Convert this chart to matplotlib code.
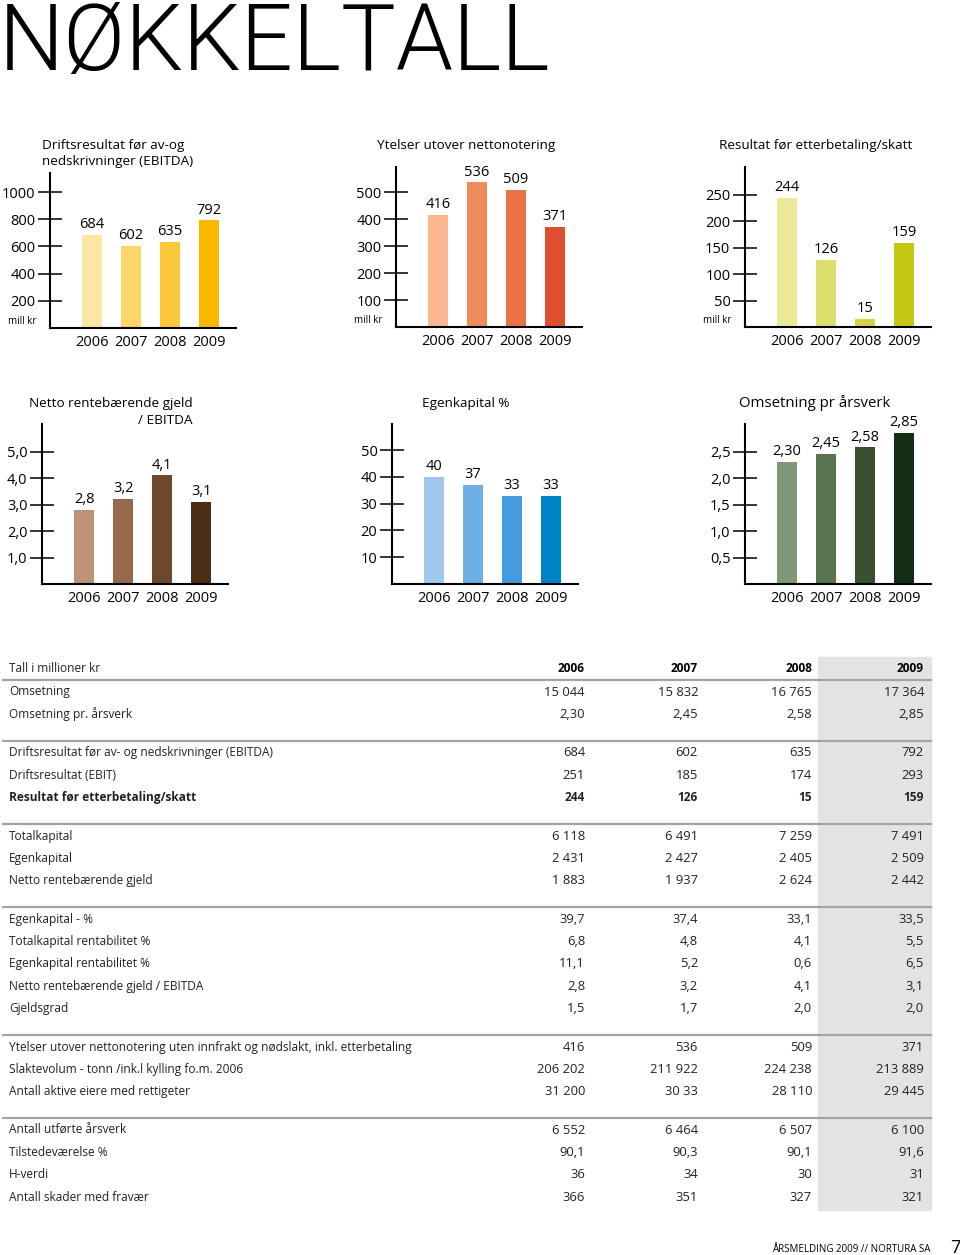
import matplotlib
matplotlib.use("Agg")
import matplotlib.pyplot as plt

W, H = 960, 1255
plt.rcParams["font.family"] = ["Open Sans", "DejaVu Sans"]

# --- data for the six bar charts ---
years = ["2006", "2007", "2008", "2009"]
ebitda = [684, 602, 635, 792]
ytelser = [416, 536, 509, 371]
resultat = [244, 126, 15, 159]
gjeld_ebitda = [2.8, 3.2, 4.1, 3.1]
egenkapital_pct = [40, 37, 33, 33]
omsetning_aarsverk = [2.30, 2.45, 2.58, 2.85]

# --- table data ---
tbl_header = ["2006", "2007", "2008", "2009"]
grp_omsetning = [
    ("Omsetning", ["15 044", "15 832", "16 765", "17 364"]),
    ("Omsetning pr. årsverk", ["2,30", "2,45", "2,58", "2,85"]),
]
grp_resultat = [
    ("Driftsresultat før av- og nedskrivninger (EBITDA)", ["684", "602", "635", "792"]),
    ("Driftsresultat (EBIT)", ["251", "185", "174", "293"]),
    ("Resultat før etterbetaling/skatt", ["244", "126", "15", "159"]),
]
grp_kapital = [
    ("Totalkapital", ["6 118", "6 491", "7 259", "7 491"]),
    ("Egenkapital", ["2 431", "2 427", "2 405", "2 509"]),
    ("Netto rentebærende gjeld", ["1 883", "1 937", "2 624", "2 442"]),
]
grp_nokkel = [
    ("Egenkapital - %", ["39,7", "37,4", "33,1", "33,5"]),
    ("Totalkapital rentabilitet %", ["6,8", "4,8", "4,1", "5,5"]),
    ("Egenkapital rentabilitet %", ["11,1", "5,2", "0,6", "6,5"]),
    ("Netto rentebærende gjeld / EBITDA", ["2,8", "3,2", "4,1", "3,1"]),
    ("Gjeldsgrad", ["1,5", "1,7", "2,0", "2,0"]),
]
grp_eiere = [
    ("Ytelser utover nettonotering uten innfrakt og nødslakt, inkl. etterbetaling", ["416", "536", "509", "371"]),
    ("Slaktevolum - tonn /ink.l kylling fo.m. 2006", ["206 202", "211 922", "224 238", "213 889"]),
    ("Antall aktive eiere med rettigeter", ["31 200", "30 33", "28 110", "29 445"]),
]
grp_hms = [
    ("Antall utførte årsverk", ["6 552", "6 464", "6 507", "6 100"]),
    ("Tilstedeværelse %", ["90,1", "90,3", "90,1", "91,6"]),
    ("H-verdi", ["36", "34", "30", "31"]),
    ("Antall skader med fravær", ["366", "351", "327", "321"]),
]
bold_rows = ["Resultat før etterbetaling/skatt"]

fig = plt.figure(figsize=(W / 100, H / 100), dpi=100)

# background axes in pixel units (title, chart titles, table, footer)
bg = fig.add_axes([0, 0, 1, 1])
bg.set_xlim(0, W)
bg.set_ylim(H, 0)
bg.axis("off")

bg.text(-1, 70, "NØKKELTALL", fontsize=66, family=["Roboto", "DejaVu Sans"],
        fontweight=300, va="baseline", ha="left", color="black")


def fmt_int(v):
    return f"{v:.0f}"


def fmt_1(v):
    return f"{v:.1f}".replace(".", ",")


def fmt_2(v):
    return f"{v:.2f}".replace(".", ",")


# chart layout (pixels): axis x, bottom y, top y, y max
charts = [
    dict(vals=ebitda, cols=["#FDE6A2", "#FDD76A", "#FCC83C", "#F9B800"],
         ticks=[200, 400, 600, 800, 1000], tfmt=fmt_int, vfmt=fmt_int,
         x0=50, yb=328, yt=173, ymax=1140, mill=True),
    dict(vals=ytelser, cols=["#FCB68F", "#F08C5A", "#EA7346", "#DE502D"],
         ticks=[100, 200, 300, 400, 500], tfmt=fmt_int, vfmt=fmt_int,
         x0=396, yb=327, yt=167, ymax=593, mill=True),
    dict(vals=resultat, cols=["#EBE896", "#DEDE6E", "#D2D446", "#C4C814"],
         ticks=[50, 100, 150, 200, 250], tfmt=fmt_int, vfmt=fmt_int,
         x0=745, yb=327, yt=167, ymax=302, mill=True),
    dict(vals=gjeld_ebitda, cols=["#BE9274", "#96694B", "#6E482D", "#4B2D14"],
         ticks=[1, 2, 3, 4, 5], tfmt=fmt_1, vfmt=fmt_1,
         x0=42, yb=584, yt=424, ymax=6.04, mill=False),
    dict(vals=egenkapital_pct, cols=["#A0C8EE", "#6EAFE6", "#469BDC", "#0082C8"],
         ticks=[10, 20, 30, 40, 50], tfmt=fmt_int, vfmt=fmt_int,
         x0=392, yb=584, yt=424, ymax=59.8, mill=False),
    dict(vals=omsetning_aarsverk, cols=["#809878", "#5A7350", "#37502D", "#142D14"],
         ticks=[0.5, 1.0, 1.5, 2.0, 2.5], tfmt=fmt_1, vfmt=fmt_2,
         x0=745, yb=584, yt=424, ymax=3.02, mill=False),
]

for c in charts:
    ax = fig.add_axes([c["x0"] / W, 1 - c["yb"] / H, 186 / W, (c["yb"] - c["yt"]) / H])
    ax.patch.set_alpha(0)
    xs = range(len(years))
    bars = ax.bar(xs, c["vals"], width=0.51, color=c["cols"])
    ax.bar_label(bars, labels=[c["vfmt"](v) for v in c["vals"]], padding=2, fontsize=10.5)
    ax.set_xlim(-1.08, 3.69)
    ax.set_ylim(0, c["ymax"])
    for s in ["top", "right"]:
        ax.spines[s].set_visible(False)
    for s in ["left", "bottom"]:
        ax.spines[s].set_linewidth(1.5)
    ax.set_yticks(c["ticks"])
    ax.set_yticklabels([c["tfmt"](t) for t in c["ticks"]])
    ax.tick_params(axis="y", direction="inout", length=17, width=1.1, pad=2, labelsize=10.5)
    ax.set_xticks(list(xs))
    ax.set_xticklabels(years)
    ax.tick_params(axis="x", length=0, pad=5, labelsize=10.5)
    if c["mill"]:
        ax.annotate("mill kr", xy=(0, 0), xycoords="axes fraction", xytext=(-9.5, 5),
                    textcoords="offset points", ha="right", va="center", fontsize=7)

# chart titles
tfs = 9.7
bg.text(42, 154, "Driftsresultat før av-og\nnedskrivninger (EBITDA)", fontsize=tfs,
        ha="left", va="center", linespacing=1.3)
bg.text(466, 145, "Ytelser utover nettonotering", fontsize=tfs, ha="center", va="center")
bg.text(816, 145, "Resultat før etterbetaling/skatt", fontsize=tfs, ha="center", va="center")
bg.text(193, 412, "Netto rentebærende gjeld\n/ EBITDA", fontsize=tfs, ha="right",
        va="center", multialignment="right", linespacing=1.3)
bg.text(422, 403, "Egenkapital %", fontsize=tfs, ha="left", va="center")
bg.text(739, 403, "Omsetning pr årsverk", fontsize=10.8, ha="left", va="center")

# table
col_x = [585, 698, 812, 924]
fs = 8.6
nfs = 9.4
txt_col = "#222222"
bg.add_patch(plt.Rectangle((818, 657), 113, 553, color="#E3E3E3", zorder=0))
bg.text(9, 669, "Tall i millioner kr", fontsize=fs, va="center", color=txt_col)
for x, t in zip(col_x, tbl_header):
    bg.text(x, 669, t, fontsize=fs, fontweight="bold", ha="right", va="center")

line_col = "#9EA6A6"
y = 680
bg.plot([3, 931], [y, y], color=line_col, lw=1.6)
groups = [grp_omsetning, grp_resultat, grp_kapital, grp_nokkel, grp_eiere, grp_hms]
for gi, grp in enumerate(groups):
    y += 12
    for label, vals in grp:
        weight = "bold" if label in bold_rows else "normal"
        bg.text(9, y, label, fontsize=fs, fontweight=weight, va="center", color=txt_col)
        for x, v in zip(col_x, vals):
            bg.text(x, y, v, fontsize=fs if weight == "bold" else nfs,
                    fontweight=weight, ha="right", va="center", color=txt_col)
        y += 22.3
    y += 4.3
    if gi < len(groups) - 1:
        bg.plot([3, 931], [y, y], color=line_col, lw=1.6)

# footer
bg.text(930, 1249, "ÅRSMELDING 2009 // NORTURA SA", fontsize=7, ha="right", va="center")
bg.text(955, 1248, "7", fontsize=13, ha="center", va="center")

fig.savefig("out.png", dpi=100)
